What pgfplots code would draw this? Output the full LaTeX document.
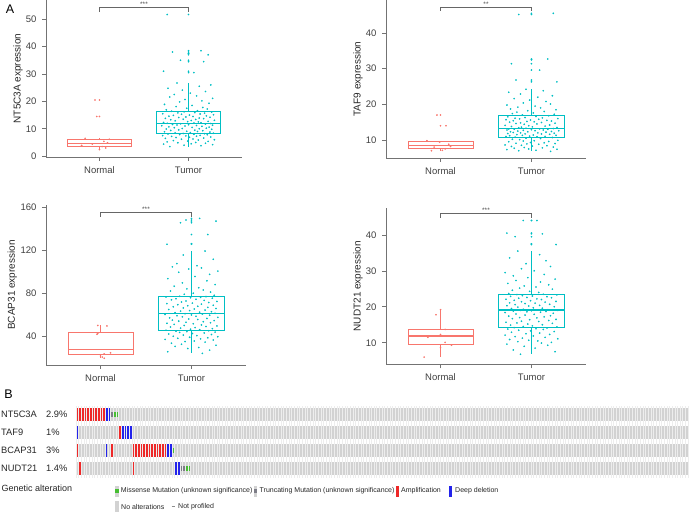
\documentclass[border=0pt]{standalone}
\usepackage{fontspec}
\setmainfont{Liberation Sans}
\usepackage{pgfplots}
\pgfplotsset{compat=1.18}
\usepackage{pgfplotstable}
\usepgfplotslibrary{statistics}

\definecolor{normc}{HTML}{F8766D}
\definecolor{tumc}{HTML}{00BFC4}
\definecolor{amp}{RGB}{238,40,40}
\definecolor{del}{RGB}{35,35,235}
\definecolor{miss}{RGB}{70,190,50}
\definecolor{trunc}{RGB}{125,125,135}
\definecolor{noalt}{RGB}{210,210,210}

\pgfplotstableread{
jxa jxb a b c d
-0.21 0.12 3.5 6.8 24.5 6.8
0.14 -0.26 3.8 7.0 26 7.5
-0.05 0.20 4.0 7.1 27.5 8
0.27 -0.04 4.2 7.3 29 8.5
-0.28 0.08 4.4 7.4 30 9
0.03 -0.18 4.5 7.5 31 9.3
0.19 0.27 4.7 7.7 32 9.6
-0.12 -0.11 4.9 7.8 33 9.9
0.08 -0.22 5.0 7.9 34 10.1
-0.24 0.15 5.2 8.0 35 10.3
0.22 -0.07 5.4 8.2 35.5 10.5
-0.01 0.03 5.5 8.3 36 10.7
-0.17 0.24 5.7 8.4 37 10.9
0.11 -0.29 5.9 8.5 37.5 11.1
0.29 0.10 6.0 8.6 38 11.3
-0.08 -0.15 6.2 8.8 38.5 11.5
0.05 0.18 6.3 8.9 39 11.7
-0.26 -0.02 6.5 9.0 39.5 11.9
0.17 0.29 6.6 9.1 40 12.1
-0.14 -0.20 6.8 9.2 40.5 12.3
0.01 0.06 6.9 9.3 41 12.5
0.25 -0.09 7.0 9.5 41.5 12.7
-0.19 0.22 7.2 9.6 42 12.9
0.09 -0.25 7.3 9.7 42.5 13.1
-0.03 0.01 7.4 9.8 43 13.3
-0.29 0.14 7.5 9.9 43.5 13.5
0.13 -0.13 7.6 10.1 44 13.7
0.21 0.26 7.8 10.2 44.3 13.8
-0.10 -0.05 7.9 10.4 44.7 13.9
0.06 -0.17 8.0 10.5 45 14.1
-0.23 0.19 8.1 10.7 45.5 14.2
0.18 -0.28 8.2 10.8 46 14.4
-0.06 0.09 8.3 10.9 46.5 14.5
0.28 -0.01 8.4 11.0 47 14.7
-0.15 0.23 8.5 11.0 47.5 14.9
0.02 -0.12 8.6 11.1 48 15.0
0.24 0.04 8.8 11.2 48.5 15.2
-0.27 -0.23 8.9 11.3 49 15.4
0.10 0.16 9.0 11.3 49.5 15.5
-0.02 0.28 9.1 11.4 50 15.7
0.16 -0.08 9.3 11.5 50.5 15.9
-0.20 0.11 9.4 11.6 51 16.0
0.07 -0.19 9.5 11.7 51.5 16.2
-0.11 0.02 9.6 11.7 52 16.4
0.26 -0.27 9.8 11.8 52.5 16.5
-0.25 0.21 9.9 11.9 53 16.7
0.12 -0.06 10.0 12.0 53.5 16.9
-0.07 0.13 10.1 12.0 54 17.0
0.20 -0.14 10.2 12.1 54.5 17.2
-0.16 0.25 10.4 12.2 55 17.4
0.04 -0.21 10.5 12.3 55.5 17.5
0.23 0.07 10.6 12.3 56 17.7
-0.22 -0.03 10.7 12.4 56.5 17.9
0.15 0.17 10.9 12.5 57 18.0
-0.04 -0.24 11.0 12.6 57.5 18.2
-0.30 0.29 11.1 12.6 58 18.4
0.09 -0.10 11.2 12.7 58.5 18.5
0.27 0.05 11.3 12.8 59 18.6
-0.13 -0.16 11.4 12.8 59.5 18.7
0.00 0.20 11.5 12.9 60 18.8
-0.18 0.00 11.6 13.0 60.3 18.9
0.19 -0.29 11.7 13.0 60.7 19.0
-0.09 0.12 11.8 13.1 61 19.0
0.25 -0.07 11.9 13.1 61.4 19.1
-0.24 0.26 12.0 13.2 61.8 19.1
0.06 -0.18 12.1 13.3 62.3 19.2
0.14 0.09 12.2 13.4 62.8 19.3
-0.28 0.22 12.3 13.5 63.3 19.5
0.11 -0.12 12.5 13.6 63.8 19.6
-0.01 -0.02 12.6 13.7 64.3 19.7
0.22 0.15 12.7 13.8 64.8 19.9
-0.15 -0.25 12.9 13.9 65.3 20.0
0.03 0.03 13.0 14.0 65.8 20.2
0.29 0.27 13.1 14.1 66.3 20.3
-0.20 -0.09 13.3 14.2 66.8 20.4
0.08 0.18 13.4 14.4 67.3 20.6
-0.06 -0.20 13.5 14.5 67.8 20.7
0.17 0.07 13.7 14.6 68.3 20.9
-0.26 -0.04 13.8 14.7 68.8 21.0
0.12 0.24 13.9 14.8 69.3 21.1
-0.11 -0.15 14.1 14.9 69.8 21.3
0.24 0.11 14.2 15.0 70.3 21.4
-0.03 -0.27 14.3 15.1 70.8 21.5
0.05 0.01 14.5 15.2 71.3 21.7
-0.22 0.19 14.6 15.3 71.8 21.8
0.20 -0.11 14.7 15.4 72.3 22.0
-0.17 0.28 14.9 15.5 72.8 22.1
0.01 -0.06 15.0 15.6 73.3 22.2
0.28 0.14 15.1 15.7 73.8 22.4
-0.08 -0.22 15.3 15.8 74.3 22.5
0.13 0.05 15.4 15.9 74.8 22.6
-0.29 -0.17 15.5 16.0 75.3 22.8
0.18 0.23 15.7 16.1 75.8 22.9
-0.12 -0.01 15.8 16.2 76.3 23.0
0.07 0.10 15.9 16.3 76.6 23.1
0.26 -0.28 16.1 16.5 77 23.3
-0.05 0.16 16.2 16.6 77.3 23.4
-0.19 -0.13 16.4 16.8 77.6 23.5
0.10 0.25 16.6 17.0 78.5 23.7
-0.25 -0.08 16.9 17.2 79.5 24.0
0.21 0.02 17.2 17.4 80.5 24.3
-0.02 0.21 17.5 17.6 81.5 24.6
0.16 -0.23 17.8 17.8 82.5 24.9
-0.14 0.13 18.1 18.0 83.5 25.2
0.04 -0.05 18.5 18.2 84.5 25.5
-0.27 0.08 18.9 18.5 85.5 25.8
0.23 -0.19 19.3 18.7 87 26.1
-0.10 0.26 19.8 19.0 88.5 26.5
0.15 -0.10 20.2 19.2 90 26.9
-0.04 0.17 20.7 19.5 92 27.3
0.27 -0.26 21.1 19.8 94 27.7
-0.21 0.04 21.6 20.1 96 28.1
0.09 0.20 22.0 20.4 98 28.6
-0.16 -0.14 22.5 20.8 100 29.0
0.02 0.29 23.0 21.2 101 29.5
0.19 -0.03 23.6 21.6 103 30.0
-0.07 0.11 24.1 22.0 104 30.6
-0.23 -0.21 24.8 22.4 105 31.2
0.12 0.06 25.5 22.9 106 32.0
0.25 -0.16 26.0 23.4 108 32.8
-0.13 0.24 26.7 23.8 112 33.6
0.06 -0.09 30.5 24.2 116 34.5
-0.28 0.15 31.0 26.3 119.7 35.5
0.17 -0.27 34.5 26.8 126 37.3
-0.09 0.00 35.0 29.6 126.5 37.5
0.22 0.18 37.0 31.4 135 39.5
0.00 -0.12 37.5 32.5 146 40.3
-0.18 0.27 38.0 32.7 147.5 40.5
0.14 -0.06 38.5 45.2 148.5 44
-0.24 0.09 51.7 45.5 150 44
}\tumor

\pgfplotsset{
  boxpanel/.style={
    scale only axis, anchor=south west,
    xmin=0.4, xmax=2.6,
    xtick={1,2}, xticklabels={Normal,Tumor},
    axis x line*=bottom, axis y line*=left,
    axis line style={black!55, line width=0.6pt, -},
    tick style={black!55, line width=0.6pt},
    tick align=outside, major tick length=4pt,
    ticklabel style={font=\fontsize{9.5}{11}\selectfont, text=black!75},
    xticklabel style={yshift=-2pt},
    yticklabel style={xshift=-2pt},
    label style={font=\fontsize{10}{12}\selectfont, text=black!85},
    /pgf/number format/assume math mode=true,
    clip=false,
    boxplot/draw direction=y,
    boxplot/every median/.style={line width=1.2pt},
  },
  pts/.style={only marks, mark=*, mark size=0.62pt, #1, mark options={draw=none, fill=#1}},
}
\tikzset{sig/.style={font=\fontsize{6.5}{6.5}\selectfont, text=black!70, anchor=south, inner sep=0.4pt}}
\newcommand{\oprect}[5]{\addplot[fill=#1, draw=none] coordinates {(#2,#4) (#3,#4) (#3,#5) (#2,#5)} -- cycle;}

\begin{document}
\begin{tikzpicture}
\path[use as bounding box] (0pt,0pt) rectangle (690pt,514pt);

% ---------------- Panel NT5C3A
\begin{axis}[boxpanel, at={(46pt,357pt)}, width=196pt, height=157pt,
  ymin=-0.3, ymax=57, ytick={0,10,20,30,40,50},
  ylabel={NT5C3A expression},
  ylabel style={at={(axis description cs:-0.143,0.5)}, anchor=center}]
\addplot[boxplot prepared={lower whisker=2.4, lower quartile=3.6, median=4.7, upper quartile=6.0, upper whisker=6.5, draw position=1, box extend=0.72, whisker extend=0}, draw=normc, fill=white, line width=0.6pt] coordinates {};
\addplot[boxplot prepared={lower whisker=3.5, lower quartile=8.2, median=12.0, upper quartile=16.4, upper whisker=26.7, draw position=2, box extend=0.72, whisker extend=0}, draw=tumc, fill=white, line width=0.6pt] coordinates {};
\addplot[pts=normc] coordinates {(0.95,20.5)(0.97,14.5)(0.84,6.5)(1.11,6.2)(1.05,5.4)(1.09,4.9)(0.92,4.4)(0.80,3.9)(1.03,3.5)(1.07,3.0)(1.0,2.4)};
\addplot[pts=normc] coordinates {(1,20.5)(1,14.5)};
\addplot[pts=tumc] table[x expr=2+\thisrow{jxa}, y=a] {\tumor};
\addplot[pts=tumc] coordinates {(2,30.5)(2,31.0)(2,34.5)(2,35.0)(2,37.0)(2,37.5)(2,38.0)(2,38.5)(2,51.7)};
\addplot[black!60, line width=0.5pt] coordinates {(1,52.6)(1,54.5)(2,54.5)(2,52.6)};
\node[sig] at (axis cs:1.5,54.5) {***};
\end{axis}

% ---------------- Panel TAF9
\begin{axis}[boxpanel, at={(386pt,356pt)}, width=200pt, height=158pt,
  ymin=4.95, ymax=49.25, ytick={10,20,30,40},
  ylabel={TAF9 expression},
  ylabel style={at={(axis description cs:-0.14,0.5)}, anchor=center}]
\addplot[boxplot prepared={lower whisker=7.0, lower quartile=7.8, median=8.5, upper quartile=9.6, upper whisker=9.8, draw position=1, box extend=0.72, whisker extend=0}, draw=normc, fill=white, line width=0.6pt] coordinates {};
\addplot[boxplot prepared={lower whisker=6.8, lower quartile=10.8, median=13.2, upper quartile=16.8, upper whisker=24.2, draw position=2, box extend=0.72, whisker extend=0}, draw=tumc, fill=white, line width=0.6pt] coordinates {};
\addplot[pts=normc] coordinates {(0.96,17.0)(1.06,14.0)(0.85,9.8)(0.99,9.4)(1.09,8.8)(1.11,8.2)(0.93,8.0)(1.05,7.5)(1.02,7.1)(0.90,7.0)};
\addplot[pts=normc] coordinates {(1,17.0)(1,14.0)};
\addplot[pts=tumc] table[x expr=2-\thisrow{jxa}, y=b] {\tumor};
\addplot[pts=tumc] coordinates {(2,26.3)(2,26.8)(2,29.6)(2,31.4)(2,32.5)(2,32.7)(2,45.2)(2,45.5)};
\addplot[black!60, line width=0.5pt] coordinates {(1,46.2)(1,47.2)(2,47.2)(2,46.2)};
\node[sig] at (axis cs:1.5,47.2) {**};
\end{axis}

% ---------------- Panel BCAP31
\begin{axis}[boxpanel, at={(46pt,149pt)}, width=200pt, height=160pt,
  ymin=13.7, ymax=162.5, ytick={40,80,120,160},
  ylabel={BCAP31 expression},
  ylabel style={at={(axis description cs:-0.168,0.5)}, anchor=center}]
\addplot[boxplot prepared={lower whisker=20.0, lower quartile=24.0, median=28.3, upper quartile=44.0, upper whisker=50.5, draw position=1, box extend=0.72, whisker extend=0}, draw=normc, fill=white, line width=0.6pt] coordinates {};
\addplot[boxplot prepared={lower whisker=24.5, lower quartile=46.0, median=61.8, upper quartile=77.6, upper whisker=119.7, draw position=2, box extend=0.72, whisker extend=0}, draw=tumc, fill=white, line width=0.6pt] coordinates {};
\addplot[pts=normc] coordinates {(0.97,50.5)(1.07,50.0)(0.97,43.0)(0.96,42.3)(1.11,25.0)(1.04,24.0)(1.0,22.0)(1.02,21.0)(1.04,20.0)};
\addplot[pts=tumc] table[x expr=2+\thisrow{jxb}, y=c] {\tumor};
\addplot[pts=tumc] coordinates {(2,126)(2,126.5)(2,135)(2,146)(2,147.5)(2,148.5)(2,150)};
\addplot[black!60, line width=0.5pt] coordinates {(1,151.6)(1,155.7)(2,155.7)(2,151.6)};
\node[sig] at (axis cs:1.5,155.7) {***};
\end{axis}

% ---------------- Panel NUDT21
\begin{axis}[boxpanel, at={(386pt,149.7pt)}, width=200pt, height=156pt,
  ymin=4.0, ymax=47.4, ytick={10,20,30,40},
  ylabel={NUDT21 expression},
  ylabel style={at={(axis description cs:-0.14,0.5)}, anchor=center}]
\addplot[boxplot prepared={lower whisker=6.0, lower quartile=9.5, median=11.9, upper quartile=13.7, upper whisker=19.2, draw position=1, box extend=0.72, whisker extend=0}, draw=normc, fill=white, line width=0.6pt] coordinates {};
\addplot[boxplot prepared={lower whisker=6.8, lower quartile=14.4, median=19.1, upper quartile=23.5, upper whisker=35.5, draw position=2, box extend=0.72, whisker extend=0}, draw=tumc, fill=white, line width=0.6pt] coordinates {};
\addplot[pts=normc] coordinates {(1.0,19.2)(0.95,17.8)(1.05,13.7)(1.0,12.3)(0.86,11.5)(1.05,10.1)(1.12,9.3)(1.0,8.6)(0.82,6.0)};
\addplot[pts=tumc] table[x expr=2-\thisrow{jxb}, y=d] {\tumor};
\addplot[pts=tumc] coordinates {(2,37.3)(2,37.5)(2,39.5)(2,40.3)(2,40.5)(2,44)(2,44)};
\addplot[black!60, line width=0.5pt] coordinates {(1,44.8)(1,46.0)(2,46.0)(2,44.8)};
\node[sig] at (axis cs:1.5,46.0) {***};
\end{axis}

% ---------------- Oncoprint
\begin{axis}[at={(76pt,36.5pt)}, anchor=south west, scale only axis,
  width=612pt, height=72pt, xmin=0, xmax=230, ymin=-0.5, ymax=3.5,
  axis on top, axis line style={draw=none},
  xtick={0,1,...,230}, xticklabels={}, ytick=\empty, major tick length=0pt,
  xmajorgrids, grid style={white!60!noalt, line width=0.4pt}, clip=false]
\oprect{noalt}{0}{230}{2.65}{3.35}
\oprect{noalt}{0}{230}{1.65}{2.35}
\oprect{noalt}{0}{230}{0.65}{1.35}
\oprect{noalt}{0}{230}{-0.35}{0.35}
% NT5C3A
\oprect{amp}{0}{11}{2.65}{3.35}
\oprect{del}{11}{13}{2.65}{3.35}
\oprect{trunc}{13}{14.4}{2.88}{3.12}
\oprect{miss}{14.4}{15.6}{2.88}{3.12}
% TAF9
\oprect{del}{0}{0.6}{1.65}{2.35}
\oprect{amp}{16}{17}{1.65}{2.35}
\oprect{del}{17}{21}{1.65}{2.35}
% BCAP31
\oprect{amp}{0}{1}{0.65}{1.35}
\oprect{del}{11.2}{11.8}{0.65}{1.35}
\oprect{amp}{13}{14}{0.65}{1.35}
\oprect{amp}{21}{34}{0.65}{1.35}
\oprect{del}{34}{36}{0.65}{1.35}
\oprect{miss}{36}{37.2}{0.88}{1.12}
% NUDT21
\oprect{amp}{1}{2}{-0.35}{0.35}
\oprect{amp}{21}{22}{-0.35}{0.35}
\oprect{del}{36.8}{37.8}{-0.35}{0.35}
\oprect{amp}{37.8}{38.4}{-0.35}{0.35}
\oprect{del}{38.4}{39.6}{-0.35}{0.35}
\oprect{trunc}{39.6}{41.5}{-0.12}{0.12}
\oprect{miss}{41.5}{42.8}{-0.12}{0.12}
\end{axis}

% panel letters
\node[font=\fontsize{12.5}{13}\selectfont] at (10pt,505pt) {A};
\node[font=\fontsize{12.5}{13}\selectfont] at (8.5pt,119.5pt) {B};

% gene labels and percentages
\begin{scope}[every node/.style={font=\fontsize{9.3}{11}\selectfont, anchor=west, inner sep=0pt, text=black!85}]
\node at (1pt,99.5pt) {NT5C3A};  \node at (46pt,99.5pt) {2.9\%};
\node at (1pt,81.5pt) {TAF9};    \node at (46pt,81.5pt) {1\%};
\node at (1pt,63.5pt) {BCAP31};  \node at (46pt,63.5pt) {3\%};
\node at (1pt,45.5pt) {NUDT21};  \node at (46pt,45.5pt) {1.4\%};
\node[font=\fontsize{9}{11}\selectfont] at (1.5pt,25.5pt) {Genetic alteration};
\end{scope}

% legend keys
\fill[noalt] (115.3pt,17.5pt) rectangle (119.3pt,28.5pt);
\fill[miss] (115.3pt,21pt) rectangle (119.3pt,25pt);
\fill[noalt] (254.3pt,17.5pt) rectangle (257.3pt,28.5pt);
\fill[trunc] (254.3pt,21pt) rectangle (257.3pt,25pt);
\fill[amp] (395.7pt,17.5pt) rectangle (398.7pt,28.5pt);
\fill[del] (449.3pt,17.5pt) rectangle (452.3pt,28.5pt);
\fill[noalt] (115.3pt,1.8pt) rectangle (119.3pt,12.8pt);
\draw[black!45, line width=0.5pt] (171.5pt,7.3pt) -- (175pt,7.3pt);
\begin{scope}[every node/.style={font=\fontsize{7}{8}\selectfont, anchor=west, inner sep=0pt, text=black!85}]
\node at (120.7pt,23pt) {Missense Mutation (unknown significance)};
\node at (259.5pt,23pt) {Truncating Mutation (unknown significance)};
\node at (401pt,23pt) {Amplification};
\node at (455pt,23pt) {Deep deletion};
\node at (121pt,7.3pt) {No alterations};
\node at (178pt,7.3pt) {Not profiled};
\end{scope}
\end{tikzpicture}
\end{document}
